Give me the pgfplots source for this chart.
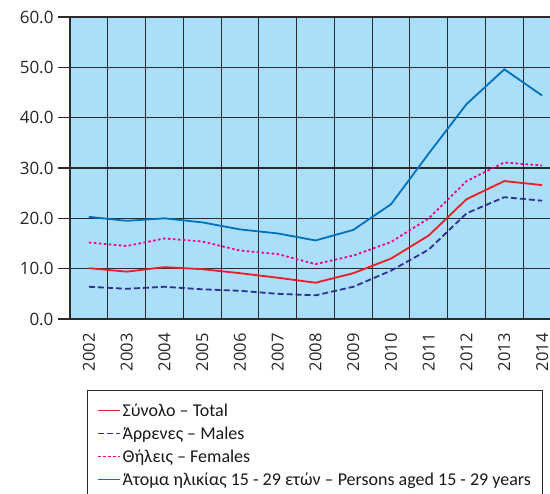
\documentclass[border=0pt]{standalone}
\usepackage{pgfplots}
\pgfplotsset{compat=1.18}
\usepackage{fontspec}
\setmainfont{Carlito}
\newfontfamily\tickfont{Open Sans}
\definecolor{bgblue}{HTML}{ABDFF9}
\definecolor{gridc}{HTML}{2B2B2B}
\definecolor{cblue}{HTML}{0072BC}
\definecolor{cred}{HTML}{ED1C24}
\definecolor{cnavy}{HTML}{2E3192}
\definecolor{cmag}{HTML}{EC008C}
\begin{document}
\begin{tikzpicture}
\begin{axis}[
  at={(70pt,175pt)}, anchor=south west,
  scale only axis, width=491pt, height=302pt,
  xmin=-0.5, xmax=12.5, ymin=0, ymax=60,
  xtick={0,...,12},
  xticklabels={2002,2003,2004,2005,2006,2007,2008,2009,2010,2011,2012,2013,2014},
  minor xtick={-0.5,0.5,...,12.5},
  xminorgrids=true, xmajorgrids=false, ymajorgrids=true,
  ytick={0,10,...,60},
  major x tick style={draw=none},
  minor x tick style={draw=none},
  y tick style={draw=gridc, line width=1.2pt},
  tick align=outside, major tick length=12pt,
  ytick pos=left,
  grid style={draw=gridc, line width=1.1pt},
  minor grid style={draw=gridc, line width=1.1pt},
  axis line style={draw=gridc, line width=1.1pt},
  axis background/.style={fill=bgblue},
  /pgf/number format/assume math mode=true,
  yticklabel={\pgfmathprintnumber[fixed,fixed zerofill,precision=1]{\tick}},
  yticklabel style={font=\tickfont\fontsize{17}{17}\selectfont, text=black!85, xshift=-1pt},
  xticklabel style={font=\tickfont\fontsize{16.5}{16.5}\selectfont, text=black!85, rotate=90, anchor=east, xshift=1pt},
  legend style={at={(0.0346,-0.235)}, anchor=north west, draw=gridc, line width=1pt,
    font=\fontsize{18}{18}\selectfont, inner xsep=10pt, inner ysep=11pt,
    row sep=5pt, text=black!90},
  legend cell align=left,
  legend image code/.code={\draw[#1, line width=1.1pt] (0pt,0pt) -- (22pt,0pt);},
]
\addplot[cred, line width=1.8pt] coordinates {(0,10.1)(1,9.4)(2,10.3)(3,9.9)(4,9.1)(5,8.2)(6,7.2)(7,9.1)(8,12.0)(9,16.6)(10,23.8)(11,27.4)(12,26.6)};
\addlegendentry{Σύνολο – Total}
\addplot[cnavy, line width=1.8pt, dash pattern=on 6pt off 3pt] coordinates {(0,6.4)(1,6.0)(2,6.4)(3,5.9)(4,5.6)(5,5.0)(6,4.7)(7,6.4)(8,9.6)(9,13.8)(10,21.0)(11,24.2)(12,23.5)};
\addlegendentry{Άρρενες – Males}
\addplot[cmag, line width=1.8pt, dash pattern=on 2.5pt off 2.5pt] coordinates {(0,15.2)(1,14.5)(2,16.0)(3,15.4)(4,13.6)(5,12.9)(6,10.9)(7,12.6)(8,15.3)(9,20.0)(10,27.4)(11,31.1)(12,30.5)};
\addlegendentry{Θήλεις – Females}
\addplot[cblue, line width=1.8pt] coordinates {(0,20.3)(1,19.5)(2,20.0)(3,19.2)(4,17.8)(5,17.0)(6,15.6)(7,17.7)(8,22.8)(9,32.9)(10,42.7)(11,49.6)(12,44.4)};
\addlegendentry{Άτομα ηλικίας 15 - 29 ετών – Persons aged 15 - 29 years}
\end{axis}
\pgfresetboundingbox
\path[use as bounding box] (0,0) rectangle (550pt,494pt);
\end{tikzpicture}
\end{document}
